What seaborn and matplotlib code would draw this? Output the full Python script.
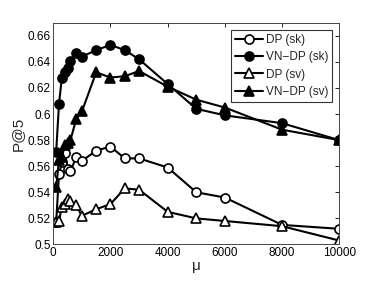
import matplotlib
matplotlib.use("Agg")
import matplotlib.pyplot as plt
import seaborn as sns
import pandas as pd

mu = [100, 200, 300, 400, 500, 600, 800, 1000, 1500, 2000, 2500, 3000, 4000, 5000, 6000, 8000, 10000]
dp_sk = [0.517, 0.554, 0.563, 0.570, 0.558, 0.556, 0.567, 0.564, 0.572, 0.575, 0.566, 0.566, 0.559, 0.540, 0.536, 0.515, 0.512]
vn_sk = [0.571, 0.608, 0.628, 0.632, 0.635, 0.641, 0.647, 0.644, 0.649, 0.653, 0.649, 0.642, 0.623, 0.604, 0.599, 0.593, 0.580]
dp_sv = [0.517, 0.518, 0.529, 0.531, 0.535, 0.533, 0.530, 0.522, 0.527, 0.531, 0.543, 0.542, 0.525, 0.520, 0.518, 0.514, 0.503]
vn_sv = [0.544, 0.565, 0.567, 0.576, 0.578, 0.580, 0.596, 0.602, 0.632, 0.628, 0.629, 0.633, 0.621, 0.611, 0.605, 0.588, 0.580]

labels = ["DP (sk)", "VN\u2212DP (sk)", "DP (sv)", "VN\u2212DP (sv)"]
xticks = [0, 2000, 4000, 6000, 8000, 10000]
yticks = [0.5, 0.52, 0.54, 0.56, 0.58, 0.6, 0.62, 0.64, 0.66]
ytick_labels = ["0.5", "0.52", "0.54", "0.56", "0.58", "0.6", "0.62", "0.64", "0.66"]

sns.set_style("white")
plt.rcParams['font.family'] = ['Liberation Sans', 'DejaVu Sans']

fig = plt.figure(figsize=(3.74, 2.81), dpi=100)
ax = fig.add_axes([0.1425, 0.130, 0.7647, 0.789])

series = [dp_sk, vn_sk, dp_sv, vn_sv]
markers = ['o', 'o', '^', '^']
faces = ['white', 'black', 'white', 'black']
for vals, lab, m, fc in zip(series, labels, markers, faces):
    df = pd.DataFrame({"mu": mu, "p5": vals})
    sns.lineplot(data=df, x="mu", y="p5", ax=ax, color="black", lw=1.5,
                 marker=m, markersize=6.5 if m == 'o' else 7, markerfacecolor=fc,
                 markeredgecolor="black", markeredgewidth=1.2, label=lab)

ax.set_xlim(0, 10000)
ax.set_ylim(0.5, 0.67)
ax.set_xticks(xticks)
ax.set_xticklabels([str(t) for t in xticks])
ax.set_yticks(yticks)
ax.set_yticklabels(ytick_labels)
ax.tick_params(direction='in', length=3, width=0.6, top=True, right=True,
               labelsize=8.5, colors='black', pad=2)
for s in ax.spines.values():
    s.set_color('#444444')
    s.set_linewidth(0.7)
ax.set_xlabel("\u03bc", fontsize=11, labelpad=0)
ax.set_ylabel("P@5", fontsize=11, labelpad=2)

leg = ax.legend(loc='upper right', fontsize=8.5, frameon=True, fancybox=False,
                edgecolor='black', handlelength=2.4, borderpad=0.35,
                labelspacing=0.45, handletextpad=0.2, borderaxespad=0.6)
leg.get_frame().set_linewidth(0.8)

fig.savefig("out.png", dpi=100)
